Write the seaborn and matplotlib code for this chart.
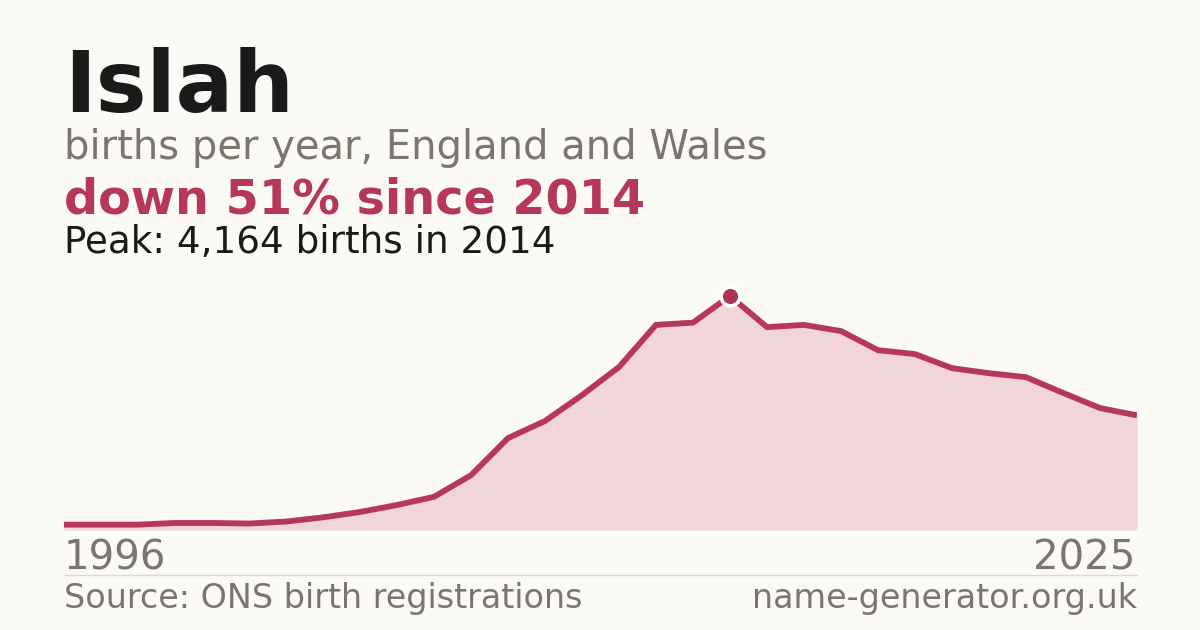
import matplotlib
matplotlib.use("Agg")
import matplotlib.pyplot as plt
import seaborn as sns
import pandas as pd

years = list(range(1996, 2026))
births = [95, 95, 95, 125, 125, 115, 150, 225, 320, 445,
          590, 975, 1635, 1940, 2400, 2900, 3650, 3690, 4164, 3610,
          3650, 3540, 3200, 3130, 2880, 2790, 2720, 2440, 2170, 2040]

name = "Islah"
subtitle = "births per year, England and Wales"
headline = "down 51% since 2014"
peak_text = "Peak: 4,164 births in 2014"
source = "Source: ONS birth registrations"
site = "name-generator.org.uk"

BG = "#fbfaf5"
RED = "#b5385a"
FILL = "#f2d5db"
GREY = "#7a756d"
DARK = "#1a1a1a"

sns.set_theme(style="white")
plt.rcParams["font.family"] = ["DejaVu Sans"]

df = pd.DataFrame({"year": years, "births": births})

W, H = 1200, 630
fig = plt.figure(figsize=(12, 6.3), dpi=100, facecolor=BG)

left, right, bottom, top = 64, 1137, 530, 280
ax = fig.add_axes([left / W, 1 - bottom / H, (right - left) / W, (bottom - top) / H])
ax.set_facecolor("none")

peak_val = max(births)
peak_year = years[births.index(peak_val)]

ax.fill_between(df["year"], df["births"], 0, color=FILL, linewidth=0, zorder=1)
sns.lineplot(data=df, x="year", y="births", ax=ax, color=RED, linewidth=4.2,
             zorder=2, solid_joinstyle="miter", solid_capstyle="butt")
ax.plot([peak_year], [peak_val], marker="o", markersize=13.5, markerfacecolor="#b03256",
        markeredgecolor="white", markeredgewidth=2.6, zorder=3, clip_on=False)

ax.set_xlim(years[0], years[-1])
ax.set_ylim(0, peak_val * 250 / 234)
ax.set_xticks([])
ax.set_yticks([])
ax.set_xlabel("")
ax.set_ylabel("")
for s in ax.spines.values():
    s.set_visible(False)

def fy(py):
    return 1 - py / H

fig.text(left / W, fy(112), name, fontsize=61.5, fontweight="bold", color=DARK, va="baseline", ha="left")
fig.text(left / W, fy(159), subtitle, fontsize=28.8, color=GREY, va="baseline", ha="left")
fig.text(left / W, fy(214), headline, fontsize=34.4, fontweight="bold", color=RED, va="baseline", ha="left")
fig.text(left / W, fy(253), peak_text, fontsize=26.8, color=DARK, va="baseline", ha="left")

fig.text(left / W, fy(570), str(years[0]), fontsize=29, color=GREY, va="baseline", ha="left")
fig.text((right - 2) / W, fy(570), str(years[-1]), fontsize=29, color=GREY, va="baseline", ha="right")

fig.add_artist(plt.Line2D([left / W, right / W], [fy(574.5), fy(574.5)], color="#dedad2", linewidth=1,
                          transform=fig.transFigure))

fig.text(left / W, fy(608), source, fontsize=24, color=GREY, va="baseline", ha="left")
fig.text(right / W, fy(608), site, fontsize=24, color=GREY, va="baseline", ha="right")

fig.savefig("out.png", dpi=100, facecolor=BG)
